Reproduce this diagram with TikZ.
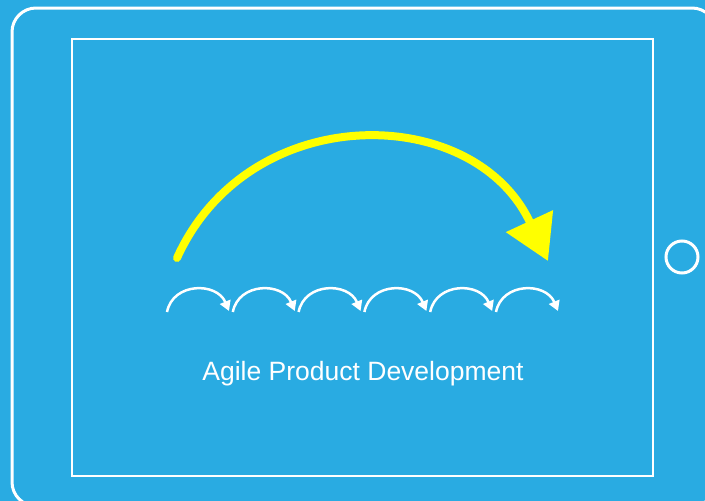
\documentclass[tikz,border=0pt]{standalone}
\usepackage{fontspec}
\setmainfont{Liberation Sans}
\usetikzlibrary{arrows.meta}
\definecolor{padblue}{HTML}{29ABE2}
\definecolor{arcyellow}{HTML}{FFFF00}

\begin{document}
\begin{tikzpicture}[x=1pt,y=-1pt,
    frame/.style={draw=white,line width=3pt},
    bigarc/.style={draw=arcyellow,line width=8pt,line cap=round,-{Triangle[length=44pt,width=50pt]}},
    smallarc/.style={draw=white,line width=2.5pt,-{Triangle[length=10pt,width=11pt]}}]

    \useasboundingbox[fill=padblue] (0,0) rectangle (705,501);

    % tablet and screen
    \draw[frame,rounded corners=24pt] (12,8) rectangle (716,506);
    \draw[frame,line width=2pt] (72,39) rectangle (653,476);
    \node[circle,draw=white,line width=3pt,minimum size=32pt,inner sep=0pt] (button) at (682,257) {};

    % big iteration
    \coordinate (start) at (177,258);
    \coordinate (stop) at (548,261);
    \draw[bigarc] (start) .. controls (249,99) and (474,102) .. (stop);

    % small iterations
    \foreach \i in {0,...,5} {
        \coordinate (s\i) at ({167+65.8*\i},312);
        \coordinate (e\i) at ({229+65.8*\i},311);
        \draw[smallarc] (s\i) .. controls +(6,-30) and +(-12,-29) .. (e\i);
    }

    \node[text=white,font=\fontsize{26.5}{30}\selectfont] (title) at (363,374) {Agile Product Development};

\end{tikzpicture}
\end{document}
